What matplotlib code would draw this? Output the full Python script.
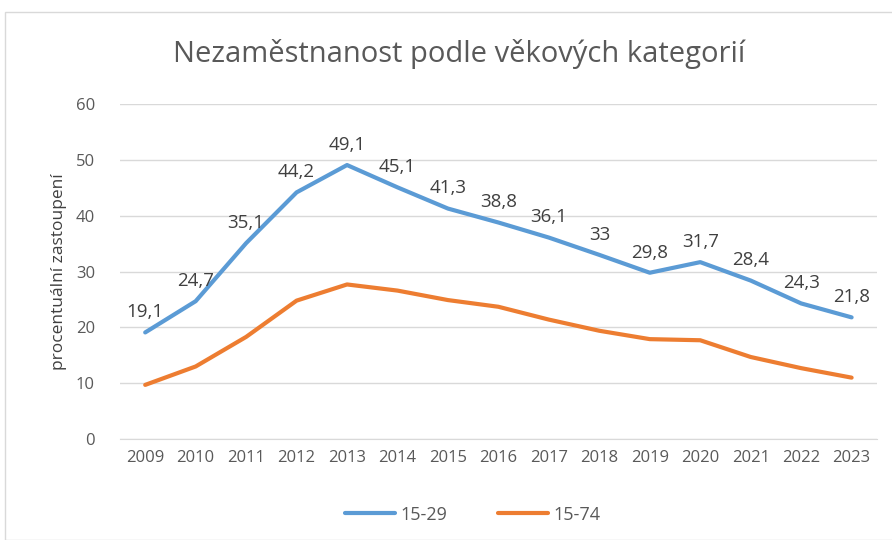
import matplotlib.pyplot as plt
from matplotlib.patches import Rectangle

# Data
roky = list(range(2009, 2024))
vek_15_29 = [19.1, 24.7, 35.1, 44.2, 49.1, 45.1, 41.3, 38.8, 36.1, 33.0, 29.8, 31.7, 28.4, 24.3, 21.8]
vek_15_74 = [9.7, 13.0, 18.3, 24.8, 27.7, 26.6, 24.9, 23.7, 21.4, 19.4, 17.9, 17.7, 14.7, 12.7, 11.0]
popisky = ["19,1", "24,7", "35,1", "44,2", "49,1", "45,1", "41,3", "38,8", "36,1", "33",
           "29,8", "31,7", "28,4", "24,3", "21,8"]

plt.rcParams['font.family'] = ['Open Sans', 'DejaVu Sans']
seda = "#595959"

fig = plt.figure(figsize=(8.92, 5.4), dpi=100)
# outer chart border
fig.patches.append(Rectangle((5 / 892, 0), 1, 1 - 12 / 540, transform=fig.transFigure,
                             fill=False, edgecolor="#D9D9D9", linewidth=1))

ax = fig.add_axes([0.1345, 0.187, 0.8485, 0.62])
ax.plot(roky, vek_15_29, color="#5B9BD5", linewidth=3, label="15-29", solid_capstyle="round")
ax.plot(roky, vek_15_74, color="#ED7D31", linewidth=3, label="15-74", solid_capstyle="round")

for x, y, t in zip(roky, vek_15_29, popisky):
    ax.annotate(t, (x, y), xytext=(0, 8), textcoords="offset points",
                ha="center", va="bottom", fontsize=13.5, color="#404040")

ax.set_xlim(2008.5, 2023.5)
ax.set_ylim(0, 60)
ax.set_yticks(range(0, 61, 10))
ax.set_xticks(roky)
ax.grid(axis="y", color="#D9D9D9", linewidth=1)
ax.set_axisbelow(True)
for s in ["top", "right", "left"]:
    ax.spines[s].set_visible(False)
ax.spines["bottom"].set_color("#D9D9D9")
ax.tick_params(length=0, colors=seda, labelsize=12)
ax.tick_params(axis="y", pad=18)
ax.tick_params(axis="x", pad=8)

ax.set_ylabel("procentuální zastoupení", fontsize=12.5, color="#404040", labelpad=6)
fig.text(0.515, 0.9, "Nezaměstnanost podle věkových kategorií", ha="center", va="center",
         fontsize=21, color=seda)

fig.legend(loc="center", bbox_to_anchor=(0.53, 0.047), ncol=2, frameon=False,
           fontsize=13, labelcolor=seda, handlelength=2.8, columnspacing=2.8, handletextpad=0.3)

plt.savefig("out.png", dpi=100)
